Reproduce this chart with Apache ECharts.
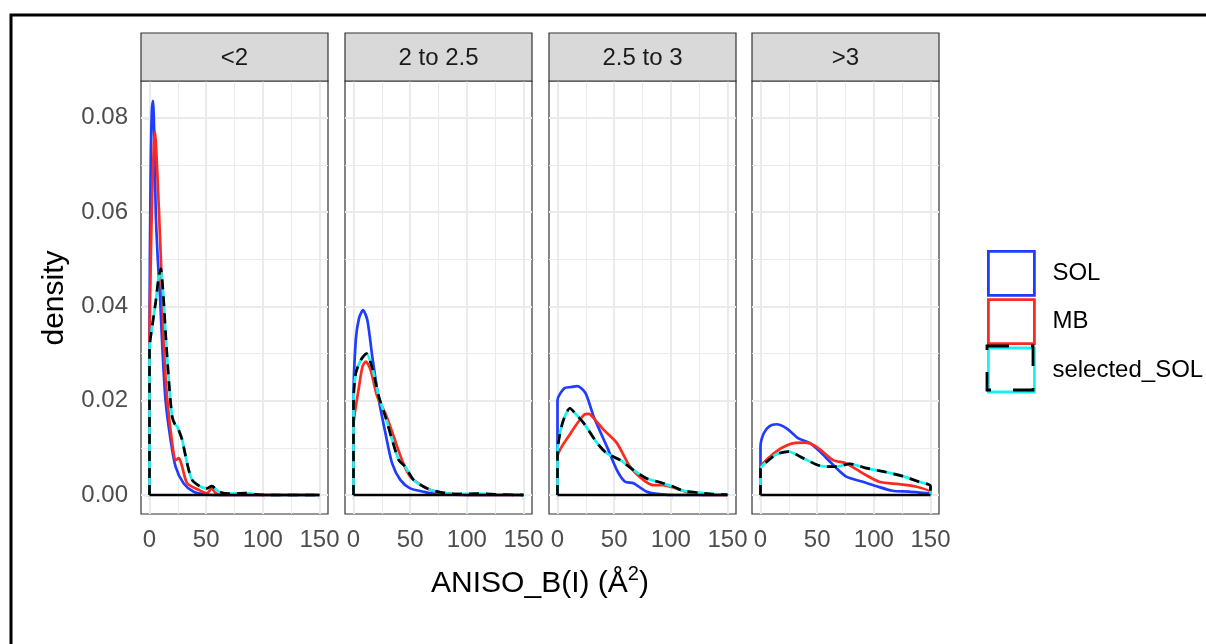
<!DOCTYPE html>
<html>
<head>
<meta charset="utf-8">
<script src="https://cdn.jsdelivr.net/npm/echarts@6/dist/echarts.min.js"></script>
<style>
html,body{margin:0;padding:0;background:#fff;}
#chart{width:1206px;height:644px;}
</style>
</head>
<body>
<div id="chart"></div>
<script>
// ---- data ----
const PANELS = ['<2', '2 to 2.5', '2.5 to 3', '>3'];
const GROUPS = ['SOL', 'MB', 'selected_SOL'];
const X_TICKS = [0, 50, 100, 150];
const X_MINOR = [25, 75, 125];
const Y_TICKS = [0, 0.02, 0.04, 0.06, 0.08];
const Y_MINOR = [0.01, 0.03, 0.05, 0.07];
const X_RANGE = [0, 150];

// panel "<2"
const SOL_1 = [[0,0.035],[1,0.068],[2,0.081],[3.1,0.0836],[4.2,0.076],[5.5,0.060],[7.3,0.050],[9.3,0.042],[11.4,0.031],[14.2,0.020],[18.6,0.0117],[23,0.006],[30,0.0025],[39,0.0007],[50,0.0001],[60,0],[150,0]];
const MB_1 = [[0,0.03],[2,0.06],[3.8,0.074],[4.9,0.077],[6,0.073],[8.4,0.060],[11.4,0.0413],[12.8,0.0307],[15.7,0.0201],[20,0.011],[23,0.0074],[25.9,0.0078],[28.8,0.006],[33.2,0.0025],[43.4,0.0011],[50.7,0.0004],[55,0.0014],[58,0.0005],[62,0],[150,0]];
const SEL_1 = [[0,0.031],[2.5,0.036],[5.5,0.041],[8,0.046],[9.9,0.048],[12,0.043],[14.2,0.0343],[17.2,0.0237],[20,0.0166],[22.5,0.0150],[24.5,0.0145],[28.8,0.0117],[33.2,0.0067],[37.6,0.0032],[44.8,0.0018],[50.7,0.0014],[55,0.0019],[61,0.0007],[70,0.0003],[85,0.0004],[95,0.0001],[110,0],[150,0]];
// panel "2 to 2.5"
const SOL_2 = [[0,0.020],[2,0.0329],[4.9,0.0375],[8.4,0.0392],[12.2,0.0371],[16.6,0.0293],[22.4,0.0201],[28.2,0.0131],[34.1,0.0067],[41.3,0.0032],[50,0.0014],[61.8,0.0007],[70,0.0003],[85,0.0001],[100,0],[150,0]];
const MB_2 = [[0,0.0145],[4.9,0.023],[7.9,0.0272],[10.8,0.0283],[15.1,0.0265],[21,0.0208],[28.2,0.0173],[35.5,0.0124],[42.8,0.0074],[50,0.0039],[61.8,0.0018],[73.7,0.0006],[90,0.0002],[110,0],[150,0]];
const SEL_2 = [[0,0.020],[2,0.0258],[6.4,0.0286],[11.4,0.030],[16.6,0.0269],[22.4,0.0208],[28.2,0.0166],[34.1,0.0117],[40,0.0074],[45.7,0.006],[53,0.0032],[64.7,0.0014],[76,0.0006],[90,0.0002],[110,0.0003],[130,0.0001],[150,0]];
// panel "2.5 to 3"
const SOL_3 = [[0,0.0201],[5.8,0.0226],[12,0.0229],[17.5,0.0231],[24.7,0.0216],[32,0.0166],[43.7,0.0102],[52.4,0.0053],[59.7,0.0028],[67,0.0025],[78.7,0.0007],[90,0.0002],[105,0],[150,0]];
const MB_3 = [[0,0.0081],[11.6,0.0131],[23.3,0.017],[27.7,0.0172],[33,0.016],[40.8,0.0138],[52.4,0.011],[64,0.006],[75.7,0.0032],[84.4,0.0021],[93,0.0021],[104.9,0.0014],[116,0.0005],[130,0],[150,0]];
const SEL_3 = [[0,0.009],[4.3,0.0152],[11,0.0184],[16,0.0172],[23.3,0.0152],[35,0.011],[43.7,0.0088],[55.4,0.0074],[67,0.0053],[78.7,0.0035],[88.8,0.0028],[101.9,0.0018],[110.6,0.0009],[125,0.0005],[137,0.0002],[150,0.0001]];
// panel ">3"
const SOL_4 = [[0,0.0102],[2.9,0.0131],[8,0.0146],[14,0.015],[23.3,0.0141],[33.5,0.012],[43.7,0.011],[52.4,0.0092],[64,0.0064],[75.7,0.0039],[90.2,0.0028],[101.9,0.0019],[116.4,0.0009],[131,0.0007],[145,0.0004],[150,0.0003]];
const MB_4 = [[0,0.0057],[11.6,0.0088],[26.2,0.0108],[39.3,0.0111],[49.5,0.0102],[64,0.0074],[75.7,0.0067],[90.2,0.0046],[104.8,0.0028],[122.2,0.0023],[136.8,0.0018],[150,0.0006]];
const SEL_4 = [[0,0.0055],[5.8,0.0071],[14.6,0.0087],[24.7,0.0092],[37.8,0.0078],[52.4,0.0062],[67,0.006],[78.7,0.0066],[93.2,0.0057],[107.8,0.005],[125.3,0.004],[139.8,0.0028],[150,0.0019]];

const SOL_DATA = [SOL_1, SOL_2, SOL_3, SOL_4];
const MB_DATA = [MB_1, MB_2, MB_3, MB_4];
const SEL_DATA = [SEL_1, SEL_2, SEL_3, SEL_4];

// ---- styles / layout ----
const FONT = 'Liberation Sans, Arial, Helvetica, sans-serif';
const BLUE = '#1f3cff', RED = '#ff2a1f', CYAN = '#19f2f2';
const PANEL_LEFT = [141, 345, 549, 752];
const PANEL_W = 187, PANEL_TOP = 81, PANEL_H = 433;
const STRIP_TOP = 33;
const DASH = [10, 7];
const LW = 2.7;
const SMALL = 24, BIG = 30;

function polygon(pts) {
  // density outline: rises from baseline at first x and returns to baseline at last x
  const first = pts[0][0], last = pts[pts.length - 1][0];
  return [[first, 0]].concat(pts).concat([[last, 0]]);
}

const grids = [], xAxes = [], yAxes = [], series = [], graphics = [];

PANELS.forEach((p, i) => {
  grids.push({
    left: PANEL_LEFT[i], top: PANEL_TOP, width: PANEL_W, height: PANEL_H,
    show: true, backgroundColor: '#fff', borderColor: '#333333', borderWidth: 1.2
  });
  xAxes.push({
    type: 'value', gridIndex: i, min: -7.5, max: 157.5,
    axisLine: { show: false },
    axisTick: { show: true, customValues: X_TICKS, length: 5, lineStyle: { color: '#333333', width: 1.2 } },
    axisLabel: { show: true, customValues: X_TICKS, fontSize: SMALL, color: '#4d4d4d', fontFamily: FONT, margin: 14 },
    splitLine: { show: false }, minorSplitLine: { show: false }
  });
  yAxes.push({
    type: 'value', gridIndex: i, min: -0.00403, max: 0.0878,
    axisLine: { show: false },
    axisTick: { show: i === 0, customValues: Y_TICKS, length: 5, lineStyle: { color: '#333333', width: 1.2 } },
    axisLabel: { show: i === 0, customValues: Y_TICKS, fontSize: SMALL, color: '#4d4d4d', fontFamily: FONT, margin: 13,
                 formatter: v => v.toFixed(2) },
    splitLine: { show: false }, minorSplitLine: { show: false }
  });

  const gl = [];
  X_MINOR.forEach(v => gl.push({ xAxis: v, lineStyle: { color: '#ebebeb', width: 1, type: 'solid' } }));
  Y_MINOR.forEach(v => gl.push({ yAxis: v, lineStyle: { color: '#ebebeb', width: 1, type: 'solid' } }));
  X_TICKS.forEach(v => gl.push({ xAxis: v, lineStyle: { color: '#ebebeb', width: 2, type: 'solid' } }));
  Y_TICKS.forEach(v => gl.push({ yAxis: v, lineStyle: { color: '#ebebeb', width: 2, type: 'solid' } }));
  series.push({
    type: 'line', name: 'grid' + i, xAxisIndex: i, yAxisIndex: i, data: [], z: 1, silent: true,
    markLine: { z: 1, silent: true, symbol: ['none', 'none'], label: { show: false }, animation: false, data: gl }
  });

  const common = { type: 'line', xAxisIndex: i, yAxisIndex: i, showSymbol: false, symbol: 'none', smooth: 0.25, silent: true, clip: true };
  series.push(Object.assign({}, common, { name: 'SOL', data: polygon(SOL_DATA[i]), z: 3, lineStyle: { color: BLUE, width: LW }, itemStyle: { color: BLUE } }));
  series.push(Object.assign({}, common, { name: 'MB', data: polygon(MB_DATA[i]), z: 4, lineStyle: { color: RED, width: LW }, itemStyle: { color: RED } }));
  series.push(Object.assign({}, common, { name: 'selected_SOL', data: polygon(SEL_DATA[i]), z: 5, lineStyle: { color: CYAN, width: LW }, itemStyle: { color: CYAN } }));
  series.push(Object.assign({}, common, { name: 'selected_SOL', data: polygon(SEL_DATA[i]), z: 6, lineStyle: { color: '#000', width: LW, type: DASH }, itemStyle: { color: '#000' } }));
  series.push(Object.assign({}, common, { name: 'base' + i, data: X_RANGE.map(x => [x, 0]), smooth: false, z: 7, lineStyle: { color: '#000', width: LW } }));

  // facet strip
  graphics.push({
    type: 'rect', shape: { x: PANEL_LEFT[i], y: STRIP_TOP, width: PANEL_W, height: PANEL_TOP - STRIP_TOP },
    style: { fill: '#d9d9d9', stroke: '#333333', lineWidth: 1.2 }, z: 10
  });
  graphics.push({
    type: 'text', x: PANEL_LEFT[i] + PANEL_W / 2, y: (STRIP_TOP + PANEL_TOP) / 2 + 1,
    style: { text: p, fontSize: SMALL, fill: '#1a1a1a', fontFamily: FONT, align: 'center', verticalAlign: 'middle' }, z: 11
  });
});

// outer frame
graphics.push({ type: 'rect', shape: { x: 11, y: 15, width: 1240, height: 700 }, style: { fill: null, stroke: '#000', lineWidth: 3 }, z: 20, silent: true });
// axis titles
graphics.push({
  type: 'text', x: 540, y: 599,
  style: { text: '{a|ANISO_B(I) (Å}{s|2}{a|)}', align: 'center', verticalAlign: 'bottom', fill: '#000', fontFamily: FONT,
    rich: { a: { fontSize: BIG, fontFamily: FONT, fill: '#000', verticalAlign: 'bottom' },
            s: { fontSize: 20, fontFamily: FONT, fill: '#000', verticalAlign: 'bottom', padding: [0, 0, 15, 0] } } },
  z: 11
});
graphics.push({
  type: 'text', x: 55, y: 298, rotation: Math.PI / 2,
  style: { text: 'density', fontSize: BIG, fill: '#000', fontFamily: FONT, align: 'center', verticalAlign: 'middle' }, z: 11
});
// legend key dash overlay for selected_SOL
graphics.push({
  type: 'rect', shape: { x: 987, y: 346, width: 46, height: 44 },
  style: { fill: null, stroke: '#000', lineWidth: 2.8, lineDash: [22, 22] }, z: 30, silent: true
});

const option = {
  animation: false,
  backgroundColor: '#fff',
  grid: grids, xAxis: xAxes, yAxis: yAxes, series: series,
  legend: {
    orient: 'vertical', left: 987, top: 250, itemWidth: 46, itemHeight: 44, itemGap: 4, padding: 0,
    selectedMode: false,
    textStyle: { fontSize: SMALL, color: '#000', fontFamily: FONT, padding: [0, 0, 0, 13] },
    data: [
      { name: 'SOL', icon: 'rect', itemStyle: { color: 'rgba(0,0,0,0)', borderColor: BLUE, borderWidth: 2.8 } },
      { name: 'MB', icon: 'rect', itemStyle: { color: 'rgba(0,0,0,0)', borderColor: RED, borderWidth: 2.8 } },
      { name: 'selected_SOL', icon: 'rect', itemStyle: { color: 'rgba(0,0,0,0)', borderColor: CYAN, borderWidth: 2.8 } }
    ]
  },
  graphic: graphics
};
const chart = echarts.init(document.getElementById('chart'), null, { renderer: 'canvas' });
chart.setOption(option);
// align legend pitch to 48px and the dash overlay to the third key
chart.setOption({ legend: { itemGap: 1.5 } });
</script>
</body>
</html>
